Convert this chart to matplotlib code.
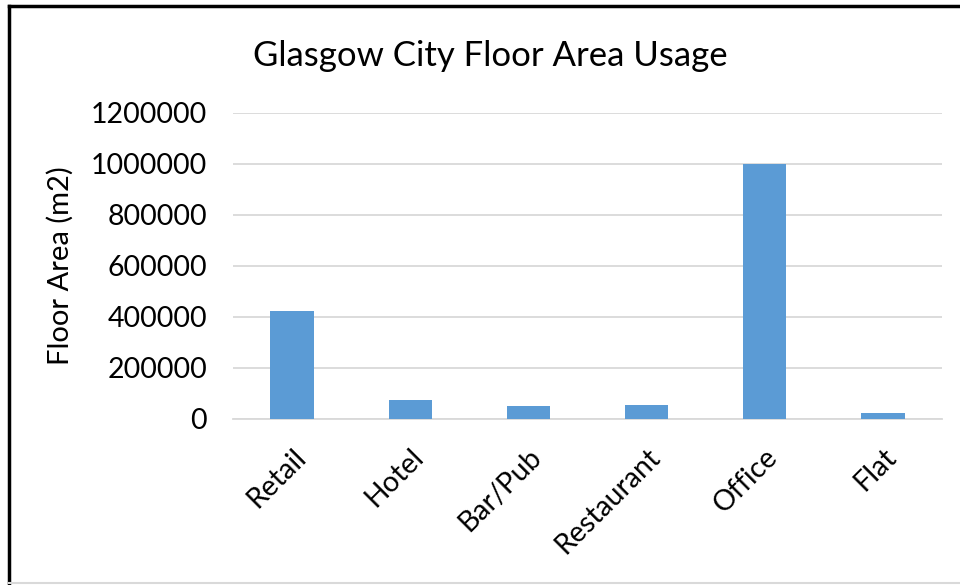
import matplotlib.pyplot as plt
from matplotlib.lines import Line2D

# data
categories = ['Retail', 'Hotel', 'Bar/Pub', 'Restaurant', 'Office', 'Flat']
floor_area = [423000, 75000, 50000, 55000, 1000000, 22000]
y_ticks = [0, 200000, 400000, 600000, 800000, 1000000, 1200000]

plt.rcParams['font.family'] = ['Lato', 'DejaVu Sans']

fig = plt.figure(figsize=(9.6, 5.85), dpi=100)
ax = fig.add_axes([0.243, 0.284, 0.738, 0.523])

ax.bar(range(len(categories)), floor_area, width=0.37, color='#5b9bd5', zorder=3)

ax.set_xlim(-0.5, len(categories) - 0.5)
ax.set_ylim(0, 1200000)
ax.set_yticks(y_ticks)
ax.set_yticklabels([str(v) for v in y_ticks], fontsize=20.5)
ax.set_xticks(range(len(categories)))
ax.set_xticklabels(categories, rotation=45, ha='right', rotation_mode='anchor', fontsize=20.5)
ax.tick_params(axis='both', length=0)
ax.tick_params(axis='y', pad=19)
ax.tick_params(axis='x', pad=18)

ax.grid(axis='y', color='#d9d9d9', linewidth=1.3, zorder=0)
for s in ['top', 'right', 'left']:
    ax.spines[s].set_visible(False)
ax.spines['bottom'].set_color('#d9d9d9')
ax.spines['bottom'].set_linewidth(1.3)

ax.set_ylabel('Floor Area (m2)', fontsize=21, labelpad=12)
fig.text(0.511, 0.905, 'Glasgow City Floor Area Usage', fontsize=25, ha='center', va='center')

# chart frame, cut off on the right and bottom
fig.add_artist(Line2D([0.009, 1.0], [0.989, 0.989], color='black', linewidth=2.5))
fig.add_artist(Line2D([0.009, 0.009], [0.0, 0.989], color='black', linewidth=2.5))
fig.add_artist(Line2D([0.009, 1.0], [0.004, 0.004], color='#d9d9d9', linewidth=1.5))

fig.savefig('out.png', dpi=100)
